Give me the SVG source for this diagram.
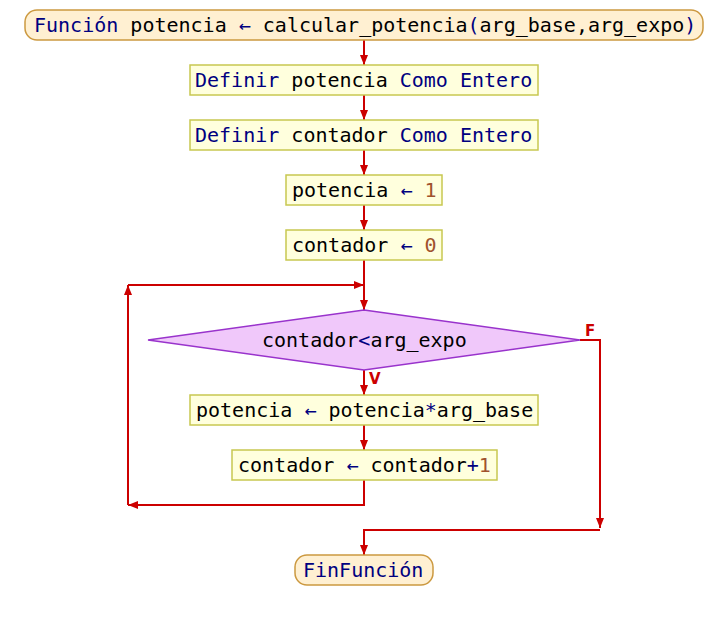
<svg xmlns="http://www.w3.org/2000/svg" width="728" height="620" viewBox="0 0 728 620">
<style>
text{font-family:"DejaVu Sans Mono","Liberation Mono",monospace;font-size:20px;fill:#000}
.k{fill:#000080}
.n{fill:#a0522d}
.box{fill:#ffffdd;stroke:#c8c850;stroke-width:1.5}
.term{fill:#fff0d2;stroke:#cc9940;stroke-width:1.5}
.dec{fill:#f0c8fa;stroke:#9933cc;stroke-width:1.5}
.c{fill:none;stroke:#cc0000;stroke-width:2}
.lbl{font-family:"DejaVu Sans","Liberation Sans",sans-serif;font-size:15px;font-weight:bold;fill:#cc0000}
</style>
<defs>
<marker id="ah" markerUnits="userSpaceOnUse" markerWidth="10" markerHeight="10" refX="10" refY="5" orient="auto">
<path d="M0,1 L10,5 L0,9 z" fill="#cc0000"/>
</marker>
</defs>
<rect width="728" height="620" fill="#fff"/>
<g id="connectors">
<path class="c" d="M364,40 V65" marker-end="url(#ah)"/>
<path class="c" d="M364,95 V120" marker-end="url(#ah)"/>
<path class="c" d="M364,150 V175" marker-end="url(#ah)"/>
<path class="c" d="M364,205 V230" marker-end="url(#ah)"/>
<path class="c" d="M364,260 V310" marker-end="url(#ah)"/>
<path class="c" d="M364,370 V395" marker-end="url(#ah)"/>
<path class="c" d="M364,425 V450" marker-end="url(#ah)"/>
<path class="c" d="M364,480 V505 H128" marker-end="url(#ah)"/>
<path class="c" d="M128,505 V285" marker-end="url(#ah)"/>
<path class="c" d="M128,285 H364" marker-end="url(#ah)"/>
<path class="c" d="M580,340 H600 V528" marker-end="url(#ah)"/>
<path class="c" d="M600,530 H364 V555" marker-end="url(#ah)"/>
<text class="lbl" x="585" y="336">F</text>
<text class="lbl" x="369" y="384">V</text>
</g>
<g id="start">
<rect class="term" x="25" y="10" width="678" height="30" rx="12"/>
<text x="34" y="32"><tspan class="k">Función</tspan> potencia <tspan class="k">←</tspan> calcular_potencia<tspan class="k">(</tspan>arg_base,arg_expo<tspan class="k">)</tspan></text>
</g>
<g id="def1">
<rect class="box" x="190" y="65" width="348" height="30"/>
<text x="195" y="87"><tspan class="k">Definir</tspan> potencia <tspan class="k">Como Entero</tspan></text>
</g>
<g id="def2">
<rect class="box" x="190" y="120" width="348" height="30"/>
<text x="195" y="142"><tspan class="k">Definir</tspan> contador <tspan class="k">Como Entero</tspan></text>
</g>
<g id="asig1">
<rect class="box" x="286" y="175" width="156" height="30"/>
<text x="292" y="197">potencia <tspan class="k">←</tspan> <tspan class="n">1</tspan></text>
</g>
<g id="asig2">
<rect class="box" x="286" y="230" width="156" height="30"/>
<text x="292" y="252">contador <tspan class="k">←</tspan> <tspan class="n">0</tspan></text>
</g>
<g id="cond">
<polygon class="dec" points="364,310 580,340 364,370 148,340"/>
<text x="262" y="347">contador<tspan class="k">&lt;</tspan>arg_expo</text>
</g>
<g id="asig3">
<rect class="box" x="190" y="395" width="348" height="30"/>
<text x="196" y="417">potencia <tspan class="k">←</tspan> potencia<tspan class="k">*</tspan>arg_base</text>
</g>
<g id="asig4">
<rect class="box" x="232" y="450" width="265" height="30"/>
<text x="238" y="472">contador <tspan class="k">←</tspan> contador<tspan class="k">+</tspan><tspan class="n">1</tspan></text>
</g>
<g id="end">
<rect class="term" x="295" y="555" width="138" height="30" rx="12"/>
<text x="303" y="577" class="k">FinFunción</text>
</g>
</svg>
